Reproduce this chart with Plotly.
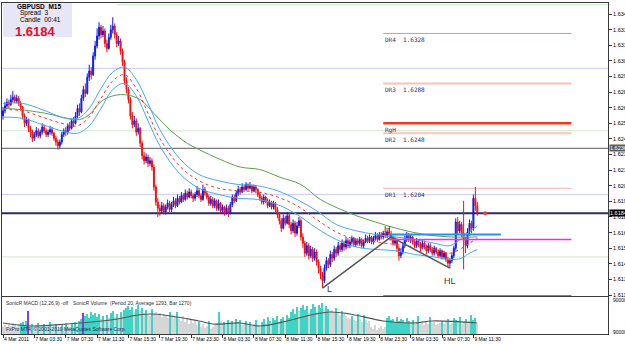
import plotly.graph_objects as go

# ---------------- data ----------------
closes = [1.6266,1.6270,1.6273,1.6271,1.6275,1.6277,1.6274,1.6276,1.6272,1.6269,
1.6262,1.6256,1.6259,1.6252,1.6249,
1.6244,1.6247,1.6250,1.6246,1.6249,1.6253,1.6250,1.6247,1.6249,1.6251,1.6248,1.6244,1.6241,1.6238,1.6241,
1.6247,1.6250,1.6249,1.6254,1.6252,1.6258,1.6256,1.6262,
1.6268,1.6265,1.6276,1.6283,1.6280,1.6293,1.6298,1.6295,1.6310,1.6318,1.6326,
1.6333,1.6327,1.6330,1.6320,1.6316,1.6325,1.6331,1.6334,
1.6327,1.6320,1.6322,1.6314,1.6305,1.6290,
1.6283,1.6275,1.6262,1.6255,1.6258,1.6249,1.6252,1.6240,
1.6230,1.6226,1.6229,1.6224,1.6226,1.6221,1.6205,1.6193,1.6188,
1.6186,1.6190,1.6185,1.6189,1.6192,1.6187,1.6191,1.6194,1.6190,1.6196,1.6193,
1.6198,1.6195,1.6200,1.6197,1.6201,1.6198,1.6196,1.6199,1.6202,1.6198,1.6195,1.6203,1.6200,1.6197,1.6192,1.6195,
1.6190,1.6194,1.6188,1.6192,1.6186,1.6189,1.6185,1.6188,1.6184,1.6191,1.6197,
1.6194,1.6200,1.6203,1.6201,1.6205,1.6203,1.6207,1.6204,1.6206,1.6202,1.6205,1.6203,1.6199,
1.6196,1.6193,1.6197,1.6194,1.6190,1.6193,1.6189,1.6192,1.6187,1.6183,
1.6178,1.6172,1.6180,1.6176,1.6182,1.6175,1.6170,1.6176,1.6168,1.6174,1.6178,1.6165,
1.6160,1.6152,1.6158,1.6150,1.6155,1.6148,1.6153,1.6145,1.6140,1.6135,1.6130,
1.6140,1.6146,1.6143,1.6151,1.6148,1.6155,1.6152,1.6158,1.6155,
1.6160,1.6157,1.6162,1.6158,1.6161,1.6164,1.6159,1.6162,1.6160,1.6163,1.6158,1.6161,1.6164,1.6162,1.6165,1.6161,1.6164,1.6166,1.6163,1.6167,1.6165,1.6168,1.6166,1.6169,1.6167,
1.6164,1.6160,1.6162,1.6156,1.6150,1.6153,1.6158,1.6163,1.6166,1.6163,1.6165,1.6161,1.6158,1.6162,1.6159,
1.6156,1.6160,1.6157,1.6154,1.6158,1.6155,1.6152,1.6156,1.6153,1.6150,1.6154,1.6149,1.6152,1.6147,1.6144,1.6146,1.6150,
1.6156,1.6177,1.6170,1.6175,1.6168,1.6163,1.6158,1.6169,1.6176,1.6172,1.6196,1.6190,1.6184]

opens = [1.6262,1.6266,1.6270,1.6273,1.6271,1.6275,1.6277,1.6274,1.6276,1.6272,
1.6269,1.6262,1.6256,1.6259,1.6252,
1.6249,1.6244,1.6247,1.6250,1.6246,1.6249,1.6253,1.6250,1.6247,1.6249,1.6251,1.6248,1.6244,1.6241,1.6238,
1.6241,1.6247,1.6250,1.6249,1.6254,1.6252,1.6258,1.6256,
1.6262,1.6268,1.6265,1.6276,1.6283,1.6280,1.6293,1.6298,1.6295,1.6310,1.6318,
1.6326,1.6333,1.6327,1.6330,1.6320,1.6316,1.6325,1.6331,
1.6334,1.6327,1.6320,1.6322,1.6314,1.6305,
1.6290,1.6283,1.6275,1.6262,1.6255,1.6258,1.6249,1.6252,
1.6240,1.6230,1.6226,1.6229,1.6224,1.6226,1.6221,1.6205,1.6193,
1.6188,1.6186,1.6190,1.6185,1.6189,1.6192,1.6187,1.6191,1.6194,1.6190,1.6196,
1.6193,1.6198,1.6195,1.6200,1.6197,1.6201,1.6198,1.6196,1.6199,1.6202,1.6198,1.6195,1.6203,1.6200,1.6197,1.6192,
1.6195,1.6190,1.6194,1.6188,1.6192,1.6186,1.6189,1.6185,1.6188,1.6184,1.6191,
1.6197,1.6194,1.6200,1.6203,1.6201,1.6205,1.6203,1.6207,1.6204,1.6206,1.6202,1.6205,1.6203,
1.6199,1.6196,1.6193,1.6197,1.6194,1.6190,1.6193,1.6189,1.6192,1.6187,
1.6183,1.6178,1.6172,1.6180,1.6176,1.6182,1.6175,1.6170,1.6176,1.6168,1.6174,1.6178,
1.6165,1.6160,1.6152,1.6158,1.6150,1.6155,1.6148,1.6153,1.6145,1.6140,1.6135,
1.6130,1.6140,1.6146,1.6143,1.6151,1.6148,1.6155,1.6152,1.6158,
1.6155,1.6160,1.6157,1.6162,1.6158,1.6161,1.6164,1.6159,1.6162,1.6160,1.6163,1.6158,1.6161,1.6164,1.6162,1.6165,1.6161,1.6164,1.6166,1.6163,1.6167,1.6165,1.6168,1.6166,1.6169,
1.6167,1.6164,1.6160,1.6162,1.6156,1.6150,1.6153,1.6158,1.6163,1.6166,1.6163,1.6165,1.6161,1.6158,1.6162,
1.6159,1.6156,1.6160,1.6157,1.6154,1.6158,1.6155,1.6152,1.6156,1.6153,1.6150,1.6154,1.6149,1.6152,1.6147,1.6144,1.6146,
1.6150,1.6156,1.6177,1.6170,1.6175,1.6168,1.6163,1.6158,1.6169,1.6176,1.6172,1.6196,1.6190]

highs = [1.6269,1.6273,1.6276,1.6275,1.6279,1.6282,1.6279,1.6279,1.6278,1.6274,
1.6270,1.6264,1.6261,1.6260,1.6254,
1.6251,1.6249,1.6253,1.6252,1.6251,1.6256,1.6255,1.6252,1.6251,1.6254,1.6253,1.6249,1.6246,1.6243,1.6243,
1.6249,1.6252,1.6253,1.6256,1.6257,1.6260,1.6261,1.6265,
1.6271,1.6272,1.6279,1.6286,1.6288,1.6296,1.6303,1.6301,1.6313,1.6322,1.6332,
1.6337,1.6335,1.6334,1.6332,1.6323,1.6328,1.6335,1.6341,
1.6336,1.6329,1.6326,1.6324,1.6316,1.6307,
1.6293,1.6285,1.6277,1.6265,1.6262,1.6260,1.6256,1.6253,
1.6242,1.6233,1.6232,1.6231,1.6229,1.6228,1.6223,1.6207,1.6196,
1.6191,1.6193,1.6192,1.6191,1.6195,1.6194,1.6193,1.6197,1.6196,1.6199,1.6198,
1.6201,1.6200,1.6203,1.6202,1.6204,1.6203,1.6200,1.6201,1.6206,1.6204,1.6200,1.6207,1.6205,1.6202,1.6199,1.6198,
1.6197,1.6196,1.6195,1.6195,1.6193,1.6191,1.6190,1.6191,1.6190,1.6193,1.6199,
1.6199,1.6202,1.6206,1.6205,1.6208,1.6207,1.6209,1.6208,1.6209,1.6207,1.6207,1.6206,1.6204,
1.6201,1.6198,1.6199,1.6198,1.6196,1.6195,1.6194,1.6194,1.6193,1.6189,
1.6185,1.6180,1.6183,1.6182,1.6185,1.6184,1.6177,1.6179,1.6178,1.6177,1.6181,1.6180,
1.6168,1.6162,1.6161,1.6160,1.6158,1.6157,1.6156,1.6155,1.6147,1.6142,1.6137,
1.6143,1.6149,1.6148,1.6154,1.6153,1.6158,1.6157,1.6161,1.6160,
1.6163,1.6162,1.6165,1.6164,1.6163,1.6166,1.6165,1.6164,1.6164,1.6165,1.6164,1.6163,1.6167,1.6166,1.6167,1.6166,1.6166,1.6169,1.6168,1.6169,1.6169,1.6170,1.6170,1.6171,1.6172,
1.6170,1.6166,1.6165,1.6164,1.6158,1.6156,1.6161,1.6166,1.6169,1.6168,1.6167,1.6166,1.6163,1.6164,1.6163,
1.6161,1.6163,1.6162,1.6159,1.6160,1.6160,1.6157,1.6158,1.6157,1.6155,1.6156,1.6155,1.6154,1.6153,1.6149,1.6148,1.6152,
1.6158,1.6180,1.6181,1.6178,1.6177,1.6194,1.6165,1.6172,1.6179,1.6178,1.6199,1.6205,1.6193]

lows = [1.6259,1.6264,1.6268,1.6268,1.6270,1.6273,1.6272,1.6272,1.6270,1.6266,
1.6259,1.6253,1.6254,1.6249,1.6245,
1.6241,1.6242,1.6245,1.6244,1.6244,1.6247,1.6248,1.6245,1.6245,1.6247,1.6246,1.6242,1.6238,1.6235,1.6236,
1.6239,1.6245,1.6246,1.6247,1.6250,1.6251,1.6253,1.6255,
1.6260,1.6262,1.6264,1.6274,1.6277,1.6279,1.6290,1.6291,1.6294,1.6307,1.6316,
1.6323,1.6324,1.6325,1.6317,1.6313,1.6315,1.6323,1.6328,
1.6324,1.6317,1.6318,1.6311,1.6302,1.6287,
1.6280,1.6272,1.6259,1.6252,1.6253,1.6246,1.6247,1.6237,
1.6227,1.6223,1.6224,1.6221,1.6222,1.6218,1.6202,1.6190,1.6181,
1.6182,1.6184,1.6183,1.6183,1.6187,1.6185,1.6185,1.6189,1.6188,1.6189,1.6191,
1.6192,1.6193,1.6194,1.6195,1.6196,1.6196,1.6193,1.6194,1.6197,1.6196,1.6193,1.6194,1.6198,1.6195,1.6190,1.6190,
1.6188,1.6188,1.6186,1.6186,1.6184,1.6184,1.6182,1.6183,1.6181,1.6183,1.6189,
1.6192,1.6193,1.6198,1.6199,1.6200,1.6201,1.6202,1.6202,1.6203,1.6200,1.6201,1.6200,1.6197,
1.6194,1.6191,1.6191,1.6192,1.6188,1.6189,1.6187,1.6187,1.6185,1.6180,
1.6175,1.6169,1.6171,1.6174,1.6175,1.6172,1.6167,1.6168,1.6165,1.6166,1.6172,1.6162,
1.6156,1.6149,1.6150,1.6147,1.6148,1.6145,1.6146,1.6142,1.6136,1.6131,1.6124,
1.6128,1.6138,1.6140,1.6141,1.6145,1.6146,1.6149,1.6150,1.6153,
1.6153,1.6154,1.6155,1.6156,1.6156,1.6159,1.6157,1.6157,1.6158,1.6158,1.6156,1.6156,1.6160,1.6160,1.6160,1.6159,1.6159,1.6162,1.6161,1.6162,1.6163,1.6163,1.6164,1.6164,1.6165,
1.6162,1.6158,1.6158,1.6153,1.6146,1.6148,1.6151,1.6156,1.6161,1.6161,1.6160,1.6159,1.6156,1.6156,1.6157,
1.6153,1.6155,1.6155,1.6151,1.6152,1.6153,1.6150,1.6150,1.6151,1.6148,1.6148,1.6147,1.6147,1.6145,1.6141,1.6140,1.6144,
1.6148,1.6154,1.6167,1.6168,1.6165,1.6139,1.6152,1.6156,1.6166,1.6168,1.6170,1.6186,1.6182]

# moving averages (sampled along the bars)
band_idx   = [0,10,20,30,38,44,50,56,62,68,74,80,90,100,110,120,130,140,150,160,170,180,190,200,210,220,228,234,238,242]
band_upper = [1.6272,1.6272,1.6267,1.6261,1.6260,1.6268,1.6284,1.6297,1.6301,1.6291,1.6272,1.6251,1.6228,1.6215,1.6210,1.6207,1.6206,1.6202,1.6195,1.6186,1.6175,1.6170,1.6167,1.6165,1.6163,1.6160,1.6158,1.6164,1.6169,1.6174]
band_mid   = [1.6267,1.6266,1.6261,1.6256,1.6254,1.6261,1.6276,1.6290,1.6295,1.6284,1.6264,1.6244,1.6222,1.6210,1.6204,1.6202,1.6201,1.6197,1.6190,1.6179,1.6169,1.6163,1.6161,1.6159,1.6157,1.6155,1.6152,1.6156,1.6160,1.6164]
band_lower = [1.6261,1.6260,1.6255,1.6250,1.6248,1.6254,1.6268,1.6283,1.6288,1.6278,1.6258,1.6238,1.6216,1.6204,1.6199,1.6196,1.6195,1.6191,1.6183,1.6172,1.6163,1.6157,1.6155,1.6154,1.6151,1.6149,1.6147,1.6148,1.6152,1.6155]
slow_idx = [0,9,25,32,39,44,49,54,62,70,77,85,94,100,111,121,131,141,152,162,177,190,203,215,228,242]
slow_ma  = [1.6268,1.6267,1.6263,1.6260,1.6259,1.6263,1.6272,1.6277,1.6279,1.6275,1.6264,1.6251,1.6240,1.6235,1.6227,1.6221,1.6219,1.6213,1.6207,1.6195,1.6184,1.6177,1.6171,1.6167,1.6165,1.6165]

# volume
volumes = [700,900,600,1000,800,1100,900,700,1000,
1100,1200,900,1300, 2300,
800,1000,700,900,1100,600,800,1000,700,900,1200,
600,800,1000,500,700,900,600,1100,800,700,1000,900,1200,800,1300,
1500, 2100,
1800,2000,1600,2200,1900,2100,1700,2000,1500,1800,1400,
1900,1600,2100,2300,1700,2000,1500,2200,1800,2400,
2600,2800,2400,2700,2200,2500,2900,2300,2600,2100,2400,2000,1800,
2500,2000,2200,1900,2100,1700,2000,1800,1600,2200,1900,1500,1700,
2200,1500,1300,1800,1200,1600,1000,1400,1100,1300,
900,1200,700,1000,600,800,1300,500,700,900,
1100,2200,1300,1000,1200,900,1400,1100,1300,1000,1500,1200,1400,900,1100,1300,1000,1200,800,1000,1400,900,700,
1200,1500,1000,1700,1300,1100,1600,1400,1800,1200,1500,1700,1300,1900,1600,
2200,2500,2000,2700,2300,2600,2900,2400,2800,2100,2500,3000,2700,2200,2900,2600,3100,2400,2800,2500,2300,
2400,2100,2600,2200,1900,2300,2000,1800,
1600,1500,1800,1400,1300,2000,1500,1200,1900,1400,1100,1300,
700,500,900,400,600,800,500,700,
1600,1800,1400,1500,1200,1700,1300,1500,1400,1100,1600,1300,1200,1400,1000,
1200,1800,1000,1100,900,1300,1000,1700,1100,1200,900,1000,1100,
1300,1000,1200,1500,900,1100,1600,1400,1200,1700,1000,1300,1500,1100,1200,1900,1400,1600,1000]
vol_kind = list("ggggggggg" "tttt" "p" "gtggtggtggt" "ggtggtgtggtgtgt" "t" "p"
                "ttttttttgtg" "tgttgtgtgt" "ttttgttgtgtgg" "tggggggggtggg" "tggggggggg"
                "gtggggtggg" "gtggtgtgtgtgtggtgtggtgg" "ttgttgtttgttgtt"
                "ttttgttttgtttgtttgttg" "ggtggtgg" "ggtggtggtggg" "gggggggg"
                "ttttttttttttgtg" "gtgggggtggggg" "tggtggttgtggtggtttg")
vol_avg_idx = [0,15,33,55,75,100,107,121,131,145,157,167,177,194,209,219,242]
vol_avg     = [1100,800,1000,1400,2000,1300,1000,1100,800,1300,1900,2200,2000,1300,1100,1300,1100]

for name, arr in [("opens", opens), ("highs", highs), ("lows", lows), ("volumes", volumes), ("vol_kind", vol_kind)]:
    if len(arr) != len(closes):
        raise SystemExit(f"{name} has {len(arr)} vs {len(closes)}")

bars = list(range(len(closes)))

tick_idx = [0,16,32,48,64,80,96,112,128,144,160,176,192,208,224,240]
tick_labels = ["4 Mar 2011","7 Mar 03:30","7 Mar 07:30","7 Mar 11:30","7 Mar 15:30","7 Mar 19:30",
               "7 Mar 23:30","8 Mar 03:30","8 Mar 07:30","8 Mar 11:30","8 Mar 15:30","8 Mar 19:30",
               "8 Mar 23:30","9 Mar 03:30","9 Mar 07:30","9 Mar 11:30"]
price_ticks = [1.61185,1.61310,1.61435,1.61560,1.61685,1.61810,1.61935,1.62060,1.62185,1.62310,
               1.62435,1.62560,1.62685,1.62810,1.62935,1.63060,1.63185,1.63310,1.63435]

# horizontal levels across the whole chart
full_levels = [1.6300, 1.6250, 1.6236, 1.6199, 1.6184, 1.6149]
full_colors = ["#CFCFF2", "#CDE8C6", "#7A7A7A", "#CFCFF2", "#2A2A66", "#CDE8C6"]
full_widths = [1, 1, 1.2, 1, 2, 1]
top_level = 1.6351
top_level_start = 58

# pivot levels
dr_names  = ["DR4", "DR3", "RgH", "DR2", "DR1", "DS"]
dr_levels = [1.6328, 1.6288, 1.6256, 1.6248, 1.6204, 1.6118]
dr_colors = ["#F0907E", "#F9C2B6", "#F2381E", "#F9C6BA", "#F4B4B0", "#7474DC"]
dr_widths = [1, 2, 2.5, 2, 1, 1.5]
dr_start, dr_end = 194, 290

cyan_level, cyan_start, cyan_end = 1.6167, 197, 254
mag_level, mag_start, mag_end = 1.6163, 197, 290

zz_x = [163, 198, 228]
zz_y = [1.6124, 1.6165, 1.6140]
zz_text = ["L", "H", "HL"]

last_price = 1.6184
last_marker_idx = 246
box_prices = [1.6236, 1.6184]
box_labels = ["1.6236", "1.6184"]

# ---------------- figure ----------------
X_RANGE = [-0.51, 308.67]
Y_RANGE = [1.61177, 1.63524]
FONT = "Liberation Sans"

fig = go.Figure()

kind_color = {"t": "#3DD6C6", "g": "#D6D6D6", "p": "#8A3CDC"}
fig.add_trace(go.Bar(x=bars, y=volumes, marker_color=[kind_color[k] for k in vol_kind],
                     marker_line_width=0, width=0.55, xaxis="x2", yaxis="y2"))
fig.add_trace(go.Scatter(x=vol_avg_idx, y=vol_avg, mode="lines", line=dict(color="#555555", width=1.2, shape="spline"),
                         xaxis="x2", yaxis="y2"))

fig.add_trace(go.Scatter(x=slow_idx, y=slow_ma, mode="lines", line=dict(color="#5E9E4E", width=1, shape="spline")))
fig.add_trace(go.Scatter(x=band_idx, y=band_upper, mode="lines", line=dict(color="#4AA8EE", width=1, shape="spline")))
fig.add_trace(go.Scatter(x=band_idx, y=band_lower, mode="lines", line=dict(color="#4AA8EE", width=1, shape="spline")))
fig.add_trace(go.Scatter(x=band_idx, y=band_mid, mode="lines", line=dict(color="#F03A3A", width=1, dash="dot", shape="spline")))

fig.add_trace(go.Candlestick(x=bars, open=opens, high=highs, low=lows, close=closes,
                             increasing=dict(line=dict(color="#0A1EF0", width=1), fillcolor="#0A1EF0"),
                             decreasing=dict(line=dict(color="#F01010", width=1), fillcolor="#F01010"),
                             whiskerwidth=0))

fig.add_trace(go.Scatter(x=zz_x, y=zz_y, mode="lines", line=dict(color="#555555", width=1.5)))
fig.add_trace(go.Scatter(x=[cyan_start, cyan_end], y=[cyan_level, cyan_level], mode="lines",
                         line=dict(color="#1E96F0", width=2)))
fig.add_trace(go.Scatter(x=[mag_start, mag_end], y=[mag_level, mag_level], mode="lines",
                         line=dict(color="#FF22FF", width=1.5)))
fig.add_trace(go.Scatter(x=[last_marker_idx], y=[last_price], mode="markers",
                         marker=dict(color="#E04040", size=4)))

shapes = []
for lv, c, w in zip(full_levels, full_colors, full_widths):
    shapes.append(dict(type="line", xref="x domain", x0=0, x1=1, yref="y", y0=lv, y1=lv,
                       line=dict(color=c, width=w), layer="below"))
shapes.append(dict(type="line", xref="x", x0=top_level_start, x1=X_RANGE[1], yref="y", y0=top_level, y1=top_level,
                   line=dict(color="#CDE8C6", width=1), layer="below"))
for lv, c, w in zip(dr_levels, dr_colors, dr_widths):
    shapes.append(dict(type="line", xref="x", x0=dr_start, x1=dr_end, yref="y", y0=lv, y1=lv,
                       line=dict(color=c, width=w), layer="below"))
# info box
shapes.append(dict(type="rect", xref="paper", yref="paper", x0=0.0017, x1=0.1155, y0=0.897, y1=0.999,
                   fillcolor="#E6E6F6", line=dict(width=0), layer="above"))

annotations = []
for name, lv in zip(dr_names[:5], dr_levels[:5]):
    txt = name if name == "RgH" else f"{name}  {lv:.4f}"
    annotations.append(dict(x=dr_start, y=lv, xref="x", yref="y", text=txt, showarrow=False,
                            xanchor="left", yanchor="top", xshift=0, yshift=-1,
                            font=dict(family="DejaVu Sans Mono", size=6, color="#2E2E70")))
shift = {"L": (7, -1), "H": (-4, 8), "HL": (0, -13)}
for x, y, t in zip(zz_x, zz_y, zz_text):
    annotations.append(dict(x=x, y=y, xref="x", yref="y", text=t, showarrow=False,
                            xshift=shift[t][0], yshift=shift[t][1],
                            font=dict(family=FONT, size=9, color="#404040")))
for p, lab, bg in zip(box_prices, box_labels, ["#5A5A5A", "#000000"]):
    annotations.append(dict(x=1, y=p, xref="paper", yref="y", text=lab, showarrow=False,
                            xanchor="left", yanchor="middle", xshift=1, bgcolor=bg, borderpad=0,
                            font=dict(family=FONT, size=5.5, color="white")))
annotations += [
    dict(x=0.061, y=0.990, xref="paper", yref="paper", text="<b>GBPUSD  M15</b>", showarrow=False,
         xanchor="center", yanchor="middle", font=dict(family=FONT, size=6.5, color="#000000")),
    dict(x=0.026, y=0.969, xref="paper", yref="paper", text="Spread  3", showarrow=False,
         xanchor="left", yanchor="middle", font=dict(family=FONT, size=6.5, color="#000000")),
    dict(x=0.026, y=0.949, xref="paper", yref="paper", text="Candle  00:41", showarrow=False,
         xanchor="left", yanchor="middle", font=dict(family=FONT, size=6.5, color="#000000")),
    dict(x=0.018, y=0.913, xref="paper", yref="paper", text="<b>1.6184</b>", showarrow=False,
         xanchor="left", yanchor="middle", font=dict(family=FONT, size=13, color="#E0102A")),
    dict(x=0.0025, y=0.094, xref="paper", yref="paper", text="SonicR MACD (12,26,9) -off", showarrow=False,
         xanchor="left", yanchor="middle", font=dict(family=FONT, size=5, color="#303030")),
    dict(x=0.114, y=0.094, xref="paper", yref="paper", text="SonicR Volume  (Period 20, Average 1293, Bar 1270)",
         showarrow=False, xanchor="left", yanchor="middle", font=dict(family=FONT, size=5, color="#303030")),
    dict(x=0.0025, y=0.016, xref="paper", yref="paper", text="FxPro MT4, © 2001-2010 MetaQuotes Software Corp.",
         showarrow=False, xanchor="left", yanchor="middle", font=dict(family=FONT, size=5, color="#20205A")),
    dict(x=1, y=0.103, xref="paper", yref="paper", text="9000000", showarrow=False, xshift=3,
         xanchor="left", yanchor="middle", font=dict(family=FONT, size=5, color="#000000")),
    dict(x=1, y=0.006, xref="paper", yref="paper", text="9000000", showarrow=False, xshift=3,
         xanchor="left", yanchor="middle", font=dict(family=FONT, size=5, color="#000000")),
]

axis_line = "#3A3A3A"
fig.update_layout(
    width=625, height=344,
    margin=dict(l=2, r=17, t=3, b=10, autoexpand=False),
    paper_bgcolor="white", plot_bgcolor="white",
    showlegend=False, hovermode=False,
    font=dict(family=FONT, size=6, color="#000000"),
    shapes=shapes, annotations=annotations,
    xaxis=dict(domain=[0, 1], anchor="y", range=X_RANGE, showgrid=False, zeroline=False,
               showticklabels=False, showline=True, linecolor=axis_line, linewidth=1, mirror=True,
               rangeslider=dict(visible=False), automargin=False),
    yaxis=dict(domain=[0.1148, 1], anchor="x", range=Y_RANGE, side="right", showgrid=False, zeroline=False,
               tickvals=price_ticks, ticktext=[f"{v:.5f}" for v in price_ticks],
               ticks="outside", ticklen=3, tickcolor=axis_line, tickfont=dict(size=5.5),
               showline=True, linecolor=axis_line, linewidth=1, mirror=True, automargin=False),
    xaxis2=dict(domain=[0, 1], anchor="y2", matches="x", range=X_RANGE, showgrid=False, zeroline=False,
                tickvals=tick_idx, ticktext=tick_labels, ticks="outside", ticklen=3, tickcolor=axis_line,
                ticklabelposition="outside right", tickangle=0, tickfont=dict(size=5),
                showline=True, linecolor=axis_line, linewidth=1, mirror=True, automargin=False),
    yaxis2=dict(domain=[0, 0.1118], anchor="x2", range=[0, 3700], side="right", showgrid=False,
                zeroline=False, showticklabels=False, ticks="",
                showline=True, linecolor=axis_line, linewidth=1, mirror=True, automargin=False),
)

fig.write_html("out.html")
